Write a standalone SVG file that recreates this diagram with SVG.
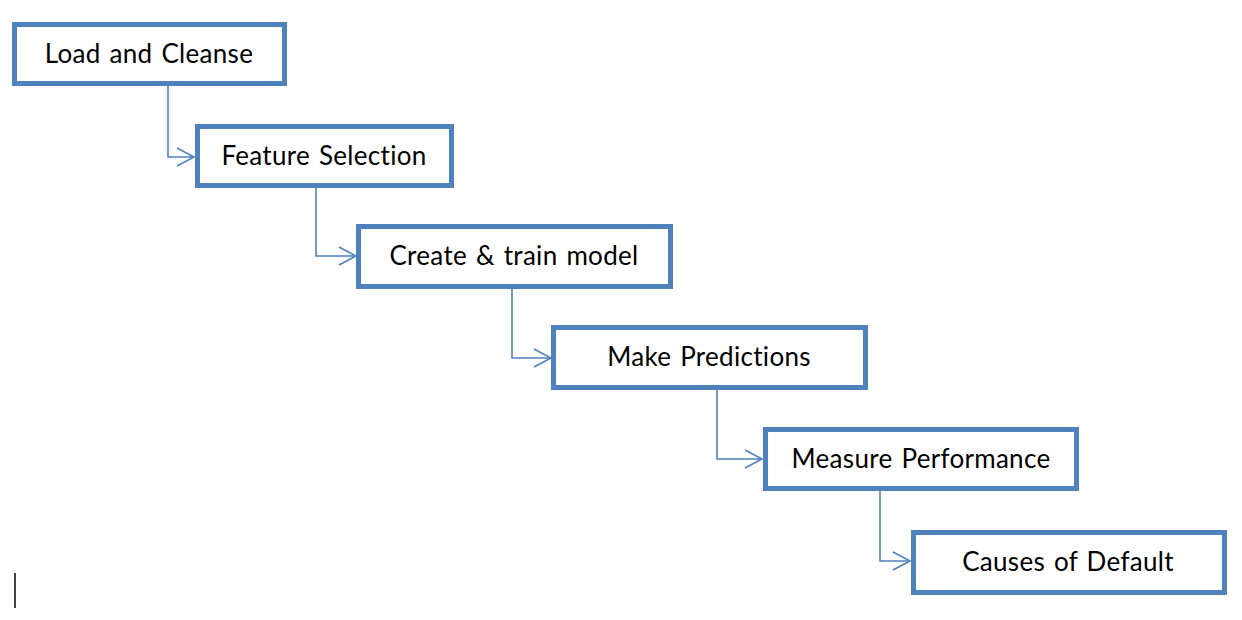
<svg xmlns="http://www.w3.org/2000/svg" width="1242" height="620" viewBox="0 0 1242 620">
<style>
.box{fill:#fff;stroke:#4F81BD;stroke-width:5;}
.lbl{font-family:Lato,"Open Sans","Liberation Sans",sans-serif;font-size:26px;letter-spacing:0.3px;word-spacing:2px;fill:#000;text-anchor:middle;}
.con{fill:none;stroke:#4F81BD;stroke-width:1.6;}
</style>
<defs>
<marker id="arr" markerWidth="22" markerHeight="22" refX="19" refY="11" orient="auto" markerUnits="userSpaceOnUse">
<path d="M2,2 L19,11 L2,20" fill="none" stroke="#4F81BD" stroke-width="1.6"/>
</marker>
</defs>
<rect width="1242" height="620" fill="#fff"/>
<g id="connectors">
<path class="con" d="M168,86 V157 H194" marker-end="url(#arr)"/>
<path class="con" d="M316,188 V256 H356" marker-end="url(#arr)"/>
<path class="con" d="M512,289 V358 H551" marker-end="url(#arr)"/>
<path class="con" d="M717,390 V459 H762" marker-end="url(#arr)"/>
<path class="con" d="M880,490 V561 H910" marker-end="url(#arr)"/>
</g>
<g id="n1"><rect class="box" x="14.5" y="24.5" width="270" height="59"/><text class="lbl" x="149" y="63">Load and Cleanse</text></g>
<g id="n2"><rect class="box" x="197.5" y="126.5" width="254" height="59"/><text class="lbl" x="324" y="165">Feature Selection</text></g>
<g id="n3"><rect class="box" x="358.5" y="226.5" width="312" height="60"/><text class="lbl" x="514" y="265">Create &amp; train model</text></g>
<g id="n4"><rect class="box" x="553.5" y="327.5" width="312" height="60"/><text class="lbl" x="709" y="366">Make Predictions</text></g>
<g id="n5"><rect class="box" x="765.5" y="429.5" width="311" height="59"/><text class="lbl" x="921" y="468">Measure Performance</text></g>
<g id="n6"><rect class="box" x="913.5" y="532.5" width="311" height="60"/><text class="lbl" x="1068" y="571">Causes of Default</text></g>
<line x1="15" y1="573" x2="15" y2="608" stroke="#000" stroke-width="1.5"/>
</svg>
